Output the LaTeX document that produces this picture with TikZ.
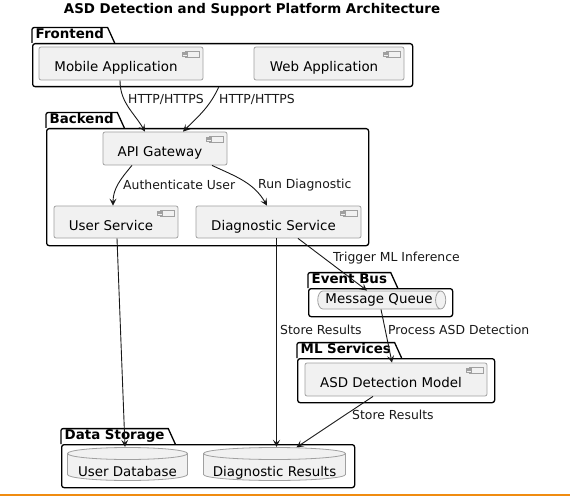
\documentclass[tikz,border=0pt]{standalone}
\usepackage{fontspec}
\setmainfont{DejaVu Sans}
\usetikzlibrary{shapes.geometric, arrows.meta, positioning, calc}
\definecolor{compfill}{HTML}{F1F1F1}
\definecolor{compline}{HTML}{A0A0A0}
\definecolor{flowline}{HTML}{181818}
\definecolor{barline}{HTML}{F08C10}

\begin{document}
\begin{tikzpicture}[x=1pt, y=1pt]
        \tikzstyle{every node}+=[inner sep=0pt]
        \tikzstyle{comp}=[draw=compline, fill=compfill, rounded corners=2pt, line width=0.8pt, font=\fontsize{13.4}{16}\selectfont, text height=16pt, text depth=0pt, execute at end node={\hspace*{10pt}}, path picture={
                \draw[compline, sharp corners, line width=0.6pt] ([xshift=-18pt, yshift=-4pt]path picture bounding box.north east) rectangle ++(14pt,-6pt);
                \draw[compline, sharp corners, line width=0.5pt, fill=compfill] ([xshift=-21pt, yshift=-5pt]path picture bounding box.north east) rectangle ++(5pt,-1.6pt);
                \draw[compline, sharp corners, line width=0.5pt, fill=compfill] ([xshift=-21pt, yshift=-7.6pt]path picture bounding box.north east) rectangle ++(5pt,-1.6pt);}]
        \tikzstyle{db}=[fill=white, font=\fontsize{13.4}{16}\selectfont, text height=24pt, text depth=0pt, path picture={
                \draw[compline, fill=compfill, line width=0.8pt] let \p1=(path picture bounding box.south west), \p2=(path picture bounding box.north east), \n1={(\x2-\x1)/2-0.5pt} in
                        (\x1+0.5pt,\y2-6.5pt) -- (\x1+0.5pt,\y1+6.5pt) arc[start angle=180, end angle=360, x radius=\n1, y radius=6pt] -- (\x2-0.5pt,\y2-6.5pt) arc[start angle=0, end angle=180, x radius=\n1, y radius=6pt] -- cycle
                        (\x1+0.5pt,\y2-6.5pt) arc[start angle=180, end angle=360, x radius=\n1, y radius=6pt];}]
        \tikzstyle{queue}=[cylinder, aspect=0.8, draw=compline, fill=compfill, line width=0.8pt, font=\fontsize{13.4}{16}\selectfont]
        \tikzstyle{pkgtab}=[anchor=south west, font=\bfseries\fontsize{13.4}{16}\selectfont, inner xsep=3.5pt, inner ysep=1.5pt, text height=9.5pt, text depth=2.5pt]
        \tikzstyle{pkgbody}=[anchor=north west, draw=black, line width=1.3pt, rounded corners=2.5pt]
        \tikzstyle{pkgline}=[draw=black, line width=1.3pt]
        \tikzstyle{lbl}=[anchor=west, font=\fontsize{12.4}{15}\selectfont, text=flowline]
        \tikzstyle{flow}=[draw=flowline, line width=0.9pt, -{Stealth[length=7pt, width=7pt, inset=3pt]}]
        \useasboundingbox (0,0) rectangle (570,-497);
        \node[font=\bfseries\fontsize{13.4}{16}\selectfont] (title) at (252,-10) {ASD Detection and Support Platform Architecture};
        \node[pkgbody, minimum width=380pt, minimum height=43pt] (frontend) at (32,-43) {};
        \node[pkgtab] (fetab) at (32,-43) {Frontend};
        \draw[pkgline] (fetab.south west) [rounded corners=2pt] -- (fetab.north west) [sharp corners] -- (fetab.north east) -- ([xshift=7pt]fetab.south east);
        \node[pkgbody, minimum width=322pt, minimum height=117pt] (backend) at (46,-128) {};
        \node[pkgtab] (betab) at (46,-128) {Backend};
        \draw[pkgline] (betab.south west) [rounded corners=2pt] -- (betab.north west) [sharp corners] -- (betab.north east) -- ([xshift=7pt]betab.south east);
        \node[pkgbody, minimum width=144pt, minimum height=28pt] (eventbus) at (308,-288) {};
        \node[pkgtab] (ebtab) at (308,-288) {Event Bus};
        \draw[pkgline] (ebtab.south west) [rounded corners=2pt] -- (ebtab.north west) [sharp corners] -- (ebtab.north east) -- ([xshift=7pt]ebtab.south east);
        \node[pkgbody, minimum width=197pt, minimum height=44pt] (mlserv) at (297,-358) {};
        \node[pkgtab] (mltab) at (297,-358) {ML Services};
        \draw[pkgline] (mltab.south west) [rounded corners=2pt] -- (mltab.north west) [sharp corners] -- (mltab.north east) -- ([xshift=7pt]mltab.south east);
        \node[pkgbody, minimum width=293pt, minimum height=43pt] (storage) at (61,-444) {};
        \node[pkgtab] (dstab) at (61,-444) {Data Storage};
        \draw[pkgline] (dstab.south west) [rounded corners=2pt] -- (dstab.north west) [sharp corners] -- (dstab.north east) -- ([xshift=7pt]dstab.south east);
        \node[comp, minimum width=164pt, minimum height=33pt] (mobile) at (121,-63.5) {Mobile Application};
        \node[comp, minimum width=150pt, minimum height=33pt] (web) at (329,-63.5) {Web Application};
        \node[comp, minimum width=124pt, minimum height=33pt] (api) at (165,-148.5) {API Gateway};
        \node[comp, minimum width=124pt, minimum height=32pt] (usersvc) at (116,-222) {User Service};
        \node[comp, minimum width=165pt, minimum height=32pt] (diagsvc) at (278.5,-222) {Diagnostic Service};
        \node[queue, minimum width=18pt, minimum height=128pt] (queue) at (379,-300) {Message Queue};
        \node[comp, minimum width=182pt, minimum height=33pt] (model) at (396,-379.5) {ASD Detection Model};
        \node[db, minimum width=121pt, minimum height=34pt] (userdb) at (127.5,-464) {User Database};
        \node[db, minimum width=143pt, minimum height=34pt] (diagres) at (274.5,-464) {Diagnostic Results};
        \draw[flow] ([xshift=-1pt]mobile.south) to[out=-90, in=120] ([xshift=-20pt]api.north);
        \draw[flow] ([xshift=-4pt]frontend.south) to[out=-115, in=45] ([xshift=18pt]api.north);
        \draw[flow] ([xshift=-33pt]api.south) to[out=-130, in=90] ([xshift=-3pt]usersvc.north);
        \draw[flow] ([xshift=47pt]api.south) to[out=-25, in=120] ([xshift=-11.5pt]diagsvc.north);
        \draw[flow] ([xshift=1pt]usersvc.south) -- ([xshift=-2.5pt]userdb.north);
        \draw[flow] ([xshift=-2pt]diagsvc.south) -- ([xshift=2pt]diagres.north);
        \draw[flow] ([xshift=19.5pt]diagsvc.south) -- ([xshift=-12pt]queue.north);
        \draw[flow] ([xshift=2pt]queue.south) -- ([xshift=-4pt]model.north);
        \draw[flow] ([xshift=-23pt]model.south) -- ([xshift=22pt, yshift=-0.5pt]diagres.north);
        \node[lbl] (httpmob) at (128,-99) {HTTP/HTTPS};
        \node[lbl] (httpweb) at (219,-99) {HTTP/HTTPS};
        \node[lbl] (auth) at (123,-185) {Authenticate User};
        \node[lbl] (rundiag) at (258,-185) {Run Diagnostic};
        \node[lbl] (trigger) at (333,-258) {Trigger ML Inference};
        \node[lbl] (storesvc) at (280,-330) {Store Results};
        \node[lbl] (process) at (388,-330) {Process ASD Detection};
        \node[lbl] (storeml) at (352,-415) {Store Results};
        \fill[barline] (0,-494.3) rectangle (570,-496.3);
\end{tikzpicture}
\end{document}
